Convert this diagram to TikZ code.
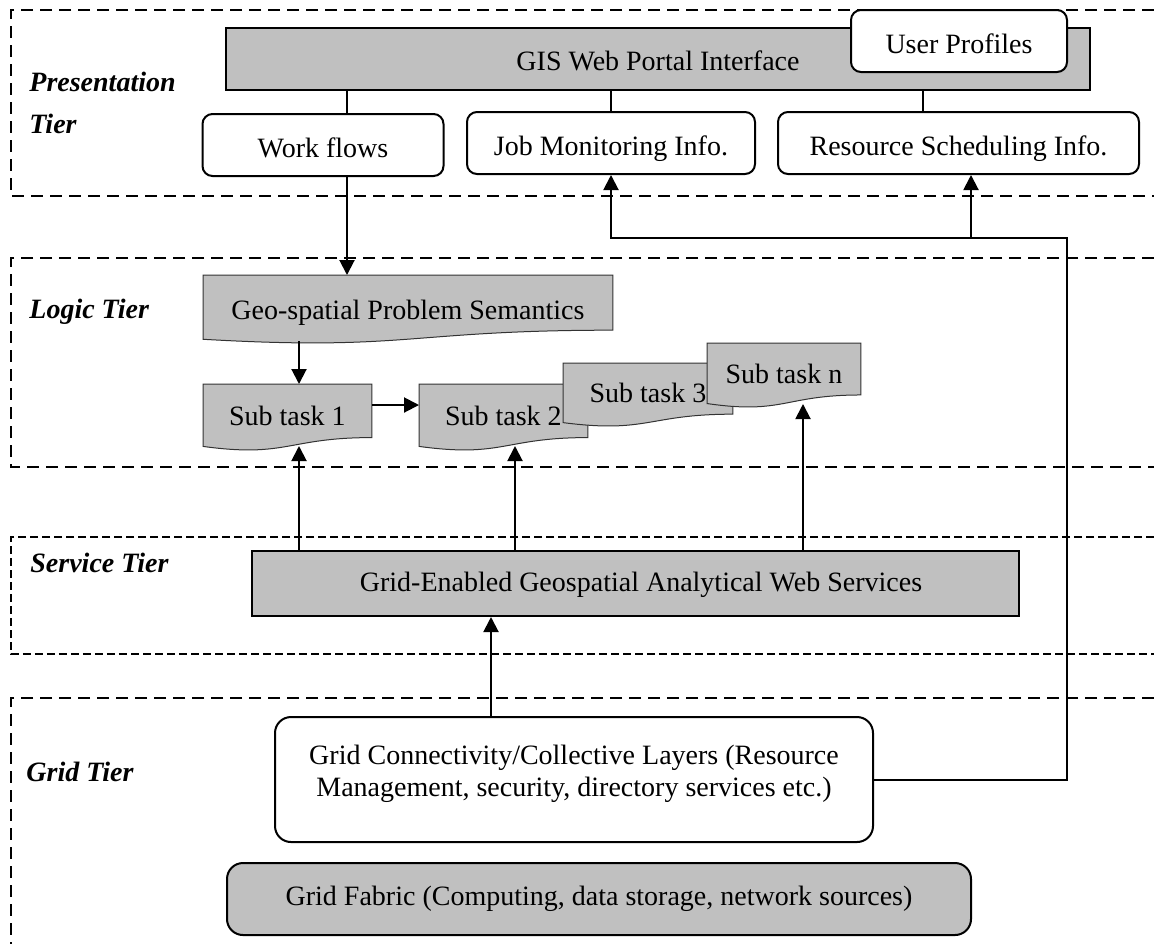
\documentclass[tikz,border=0pt]{standalone}
\usepackage{fontspec}
\setmainfont{Liberation Serif}
\usetikzlibrary{arrows.meta,calc,backgrounds}
\definecolor{boxgray}{HTML}{C0C0C0}

% document-like shape (wavy bottom) drawn behind a named node
\newcommand\docshape[1]{%
  \begin{pgfonlayer}{background}
    \filldraw[docline] (#1.north west) -- (#1.north east)
      -- ($(#1.north east)!0.802!(#1.south east)$)
      .. controls ($(#1.north)!0.802!(#1.south)$) and ($(#1.north)!1.107!(#1.south)$)
      .. ($(#1.north west)!0.934!(#1.south west)$) -- cycle;
  \end{pgfonlayer}}

\tikzset{
  tierframe/.style={line width=1pt, dash pattern=on 6pt off 3.5pt},
  tierfine/.style={line width=0.9pt, dash pattern=on 4pt off 2pt},
  tierlabel/.style={font=\fontsize{14}{21}\selectfont\bfseries\itshape, anchor=west, align=left, inner sep=0pt},
  baseline shift/.style={text height=#1, text depth=0pt},
  graybox/.style={draw, line width=1pt, fill=boxgray, inner sep=0pt},
  roundbox/.style={draw, line width=1pt, fill=white, rounded corners=5pt, inner sep=0pt, baseline shift=12pt},
  docnode/.style={anchor=north west, inner sep=0pt, draw=none, baseline shift=8pt},
  docline/.style={draw=black!80, line width=0.5pt, fill=boxgray},
  link/.style={line width=1pt},
  arr/.style={line width=1pt, -{Triangle[length=7.5pt,width=7.5pt]}},
}

\begin{document}
\begin{tikzpicture}[x=0.5pt, y=-0.5pt, font=\fontsize{14}{16}\selectfont]
\useasboundingbox (0,0) rectangle (1154,944);

% tier frames, open towards the right
\draw[tierframe] (1154,10) -- (11,10) -- (11,196) -- (1154,196);
\draw[tierframe] (1154,258) -- (11,258) -- (11,467) -- (1154,467);
\draw[tierfine]  (1154,537) -- (11,537) -- (11,654) -- (1154,654);
\draw[tierframe] (1154,698) -- (11,698) -- (11,944);

% tier labels
\node[tierlabel] (lpres) at (29,103) {Presentation\\Tier};
\node[tierlabel] (llogic) at (29,312) {Logic Tier};
\node[tierlabel] (lserv) at (30,563) {Service Tier};
\node[tierlabel] (lgrid) at (26,772) {Grid Tier};

% presentation tier
\node[graybox, baseline shift=11pt, minimum width=432pt, minimum height=31pt] (portal) at (658,59)
  {GIS Web Portal Interface};
\node[roundbox, minimum width=108pt, minimum height=31pt] (profiles) at (959,41) {User Profiles};
\node[roundbox, minimum width=120.5pt, minimum height=31pt] (wf) at (323,145) {Work flows};
\node[roundbox, minimum width=144pt, minimum height=31pt] (job) at (611,143) {Job Monitoring Info.};
\node[roundbox, minimum width=180.5pt, minimum height=31pt] (rs) at (958.5,143) {Resource Scheduling Info.};

\coordinate (cwf) at (347,0);
\coordinate (crs) at (923,0);
\draw[link] (portal.south -| cwf) -- (wf.north -| cwf);
\draw[link] (portal.south -| job) -- (job.north);
\draw[link] (portal.south -| crs) -- (rs.north -| crs);

% logic tier
\node[docnode, baseline shift=10pt, minimum width=204.5pt, minimum height=34pt] (geo) at (203,275) {Geo-spatial Problem Semantics};
\docshape{geo}
\node[docnode, minimum width=84pt, minimum height=33pt] (st1) at (203,384) {Sub task 1};
\docshape{st1}
\node[docnode, minimum width=84pt, minimum height=33pt] (st2) at (419,384) {Sub task 2};
\docshape{st2}
\node[docnode, minimum width=84.5pt, minimum height=31.5pt] (st3) at (563,363) {Sub task 3};
\docshape{st3}
\node[docnode, minimum width=76.5pt, minimum height=32pt] (stn) at (707,343) {Sub task n};
\docshape{stn}

\coordinate (geoout) at (299,341);
\coordinate (tip1) at (299,446);
\coordinate (tip2) at (515,446);
\coordinate (tipn) at (803,404);

\draw[arr] (wf.south -| cwf) -- (geo.north -| cwf);
\draw[arr] (geoout) -- (st1.north -| geoout);
\draw[arr] (st1.east |- 0,405) -- (st2.west |- 0,405);

% service tier
\node[graybox, baseline shift=7.5pt, minimum width=383.5pt, minimum height=32.5pt] (svc) at (635,583.5)
  {\hspace*{6pt}Grid-Enabled Geospatial Analytical Web Services};
\draw[arr] (svc.north -| tip1) -- (tip1);
\draw[arr] (svc.north -| tip2) -- (tip2);
\draw[arr] (svc.north -| tipn) -- (tipn);

% grid tier
\node[roundbox, rounded corners=8pt, minimum width=299pt, minimum height=62.5pt] (gcl) at (574,779.5) {};
\node[align=center, inner sep=0pt] (gcltext) at ($(gcl.center)+(0,-6)$)
  {Grid Connectivity/Collective Layers (Resource\\Management, security, directory services etc.)};
\node[graybox, baseline shift=6.5pt, rounded corners=8pt, minimum width=372pt, minimum height=36pt] (fabric) at (599,899)
  {Grid Fabric (Computing, data storage, network sources)};

\coordinate (cup) at (491,0);
\draw[arr] (gcl.north -| cup) -- (svc.south -| cup);

% status feedback to the portal
\coordinate (fbr) at (1067,238);
\coordinate (fbb) at (971,238);
\draw[arr] (gcl.east) -| (fbr) -- (job.south |- fbr) -- (job.south);
\draw[arr] (fbb) -- (rs.south -| fbb);
\end{tikzpicture}
\end{document}
